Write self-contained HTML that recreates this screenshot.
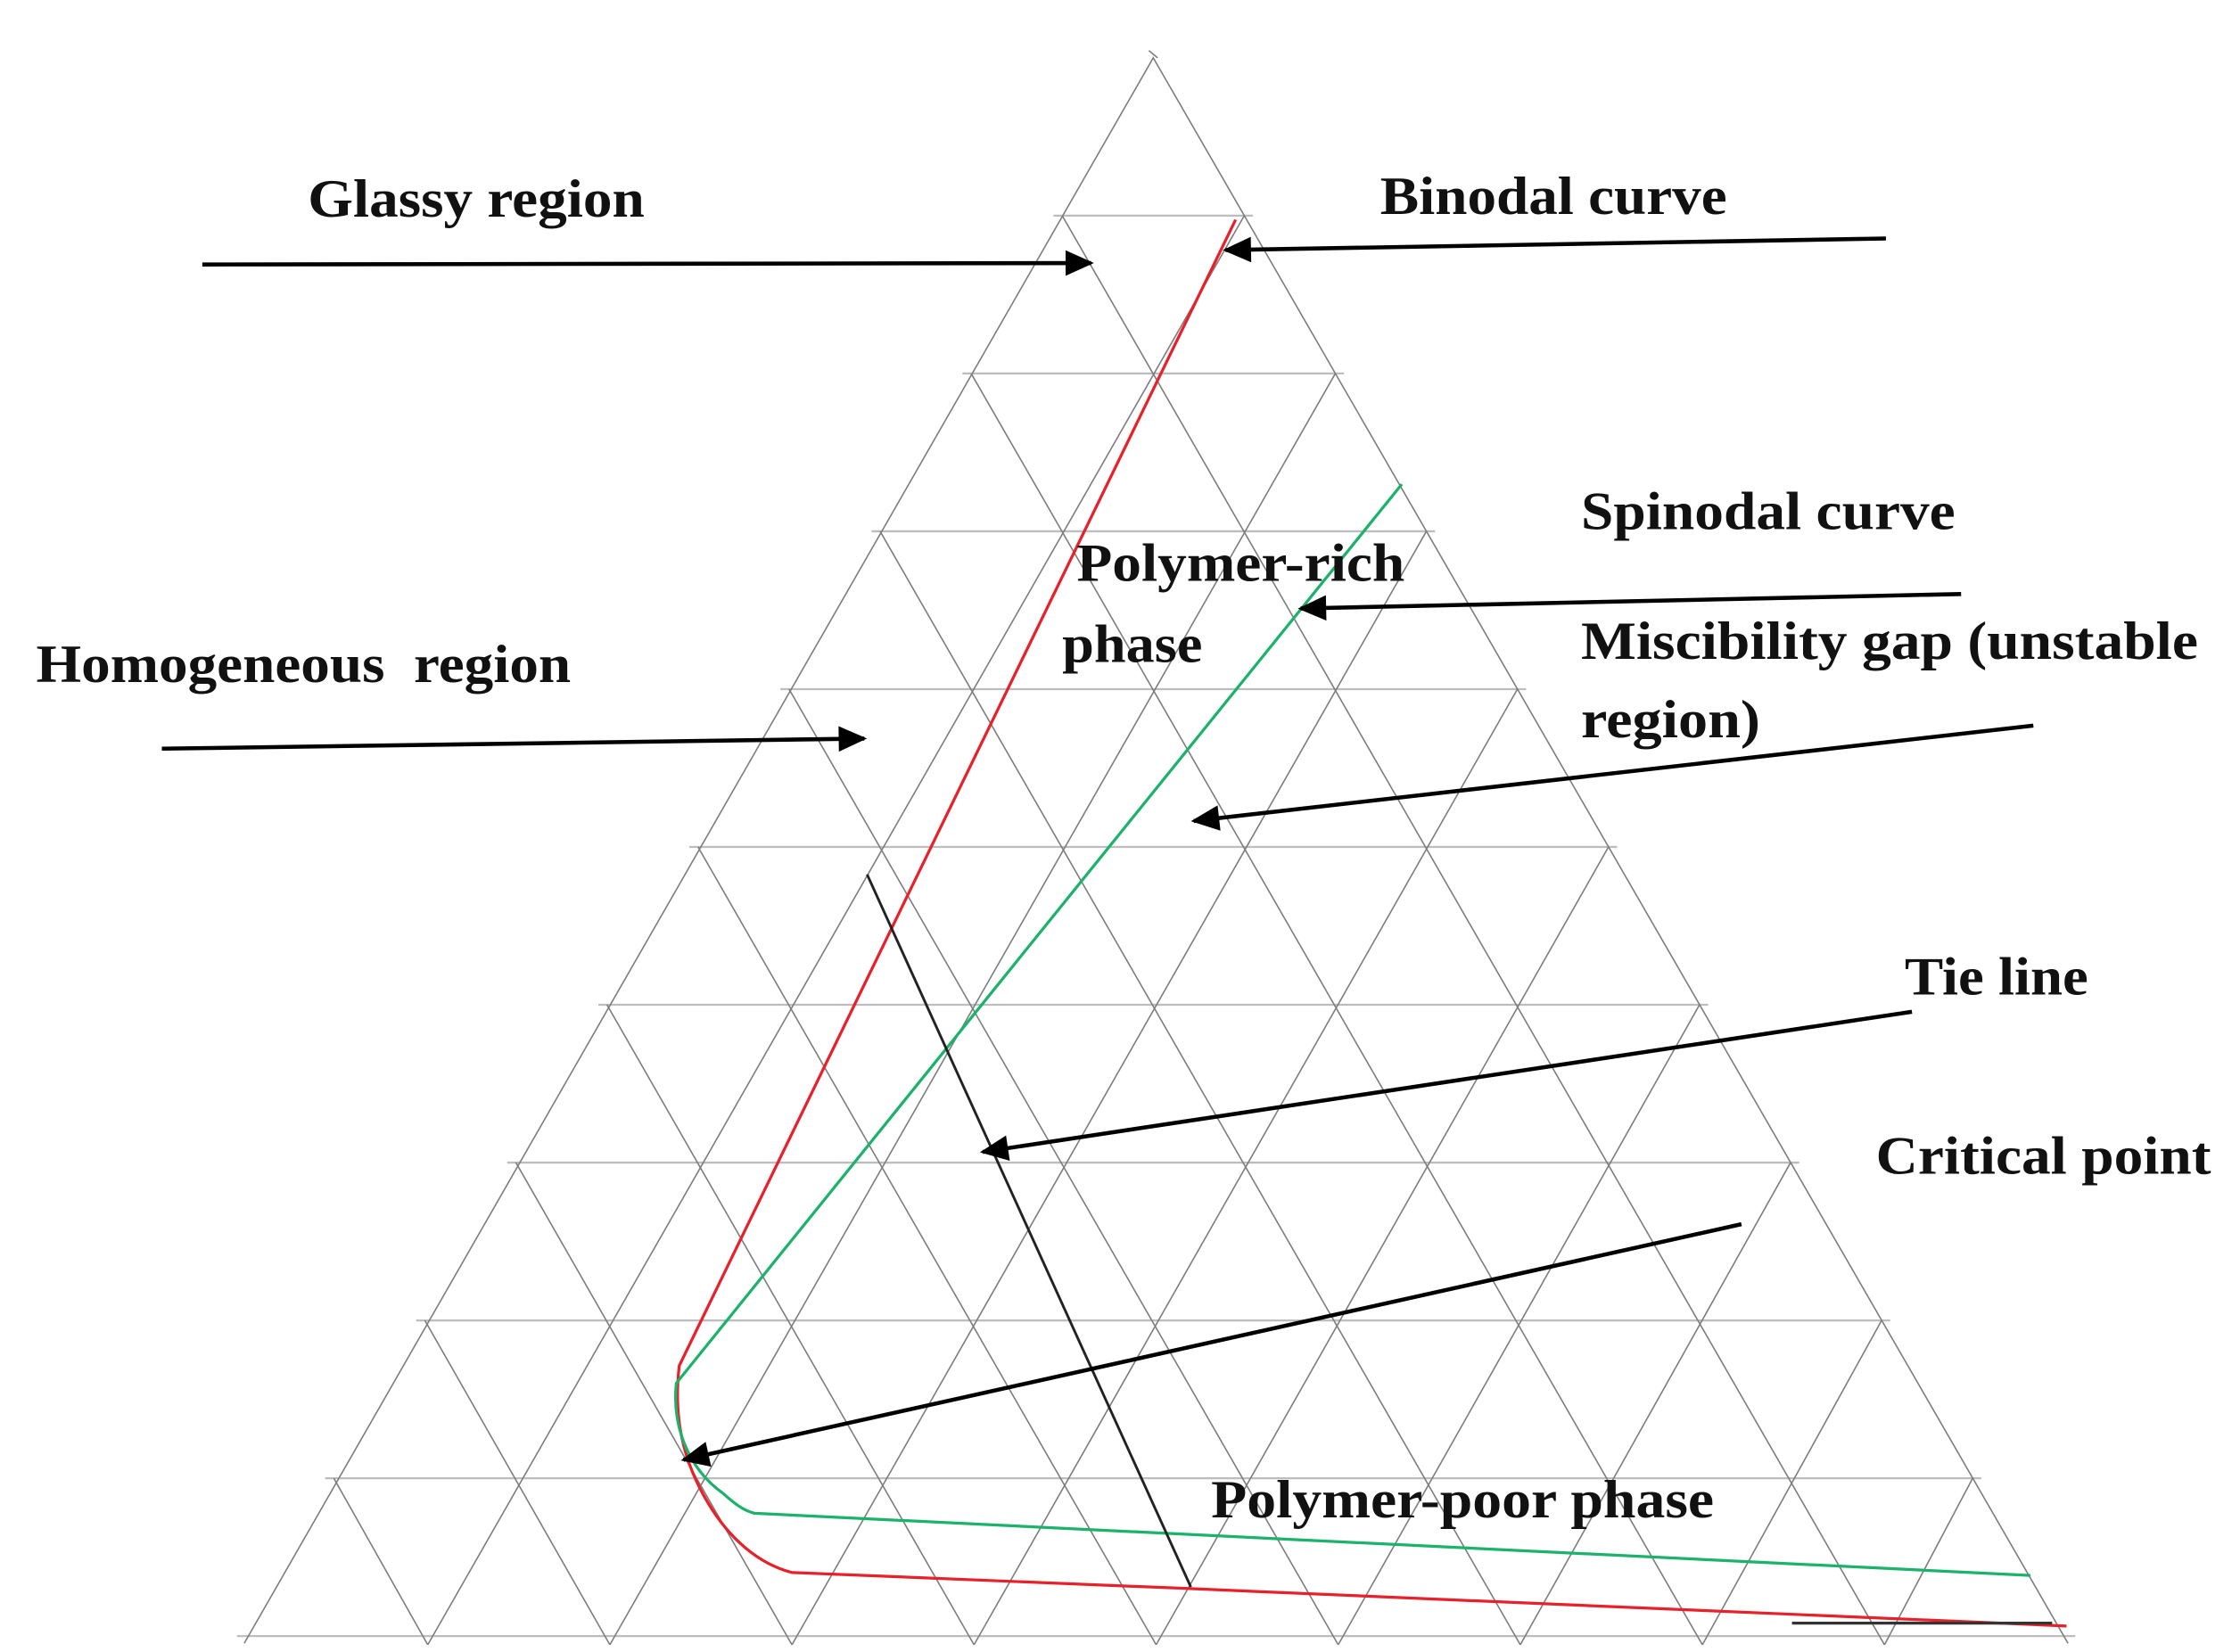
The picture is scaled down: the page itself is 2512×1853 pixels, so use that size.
<!DOCTYPE html>
<html><head><meta charset="utf-8"><style>
html,body{margin:0;padding:0;background:#fff;}
svg{display:block;}
text{font-family:"Liberation Serif",serif;font-weight:bold;font-size:37px;fill:#111;}
</style></head><body>
<svg width="2512" height="1853" viewBox="0 0 1550 1143" preserveAspectRatio="none" xmlns="http://www.w3.org/2000/svg">
<defs>
<marker id="ah" viewBox="0 0 10 10" refX="9" refY="5" markerWidth="8" markerHeight="7" orient="auto" markerUnits="strokeWidth">
<path d="M0,0.5 L10,5 L0,9.5 Z" fill="#000"/>
</marker>
</defs>
<g stroke="#bdbdbd" stroke-width="1.4">
<line x1="729" y1="149.2" x2="867" y2="149.2"/>
<line x1="666" y1="258.4" x2="930" y2="258.4"/>
<line x1="603" y1="367.6" x2="993" y2="367.6"/>
<line x1="540" y1="476.8" x2="1056" y2="476.8"/>
<line x1="477" y1="586" x2="1119" y2="586"/>
<line x1="414" y1="695.2" x2="1182" y2="695.2"/>
<line x1="351" y1="804.4" x2="1245" y2="804.4"/>
<line x1="288" y1="913.6" x2="1308" y2="913.6"/>
<line x1="225" y1="1022.8" x2="1371" y2="1022.8"/>
<line x1="164" y1="1132" x2="1436" y2="1132"/>
</g>
<g stroke="#7e7e7e" stroke-width="1" fill="none">
<path d="M169,1137 L798,40 L1431,1137"/>
<path d="M795,35 L801,40"/>
<path d="M296,1138 L861,149.2 M422,1138 L924,258.4 M548,1138 L987,367.6 M674,1138 L1050,476.8 M800,1138 L1113,586 M926,1138 L1176,695.2 M1052,1138 L1239,804.4 M1178,1138 L1302,913.6 M1304,1138 L1365,1022.8"/>
<path d="M296,1138 L231,1022.8 M422,1138 L294,913.6 M548,1138 L357,804.4 M674,1138 L420,695.2 M800,1138 L483,586 M926,1138 L546,476.8 M1052,1138 L609,367.6 M1178,1138 L672,258.4 M1304,1138 L735,149.2"/>
</g>
<path d="M855,152 L470,945 C466,980 472,1010 490,1040 C505,1065 525,1082 548,1088 L820,1099 L1430,1125" fill="none" stroke="#e8202a" stroke-width="2"/>
<path d="M970,335 L468,957 C465,985 475,1015 500,1033 C508,1040 514,1045 522,1047 L1405,1090" fill="none" stroke="#1bb26a" stroke-width="2"/>
<line x1="600" y1="605" x2="824" y2="1098" stroke="#222" stroke-width="1.8"/>
<line x1="1240" y1="1123" x2="1420" y2="1123" stroke="#333" stroke-width="2"/>
<g stroke="#000" stroke-width="2.8" marker-end="url(#ah)">
<line x1="140" y1="183" x2="755" y2="182"/>
<line x1="1305" y1="165" x2="848" y2="173"/>
<line x1="1357" y1="411" x2="900" y2="421"/>
<line x1="1407" y1="502" x2="826" y2="568"/>
<line x1="112" y1="518" x2="598" y2="511"/>
<line x1="1323" y1="700" x2="680" y2="797"/>
<line x1="1205" y1="847" x2="473" y2="1010"/>
</g>
<text x="213" y="150" textLength="233" lengthAdjust="spacingAndGlyphs">Glassy region</text>
<text x="955" y="148" textLength="240" lengthAdjust="spacingAndGlyphs">Binodal curve</text>
<text x="1094" y="366" textLength="259" lengthAdjust="spacingAndGlyphs">Spinodal curve</text>
<text x="745" y="402" textLength="227" lengthAdjust="spacingAndGlyphs">Polymer-rich</text>
<text x="735" y="458" textLength="97" lengthAdjust="spacingAndGlyphs">phase</text>
<text x="1094" y="456" textLength="427" lengthAdjust="spacingAndGlyphs">Miscibility gap (unstable</text>
<text x="1094" y="510" textLength="124" lengthAdjust="spacingAndGlyphs">region)</text>
<text x="25" y="472" textLength="370" lengthAdjust="spacingAndGlyphs" xml:space="preserve">Homogeneous  region</text>
<text x="1318" y="688" textLength="127" lengthAdjust="spacingAndGlyphs">Tie line</text>
<text x="1298" y="812" textLength="232" lengthAdjust="spacingAndGlyphs">Critical point</text>
<text x="838" y="1050" textLength="348" lengthAdjust="spacingAndGlyphs">Polymer-poor phase</text>
</svg>
</body></html>
